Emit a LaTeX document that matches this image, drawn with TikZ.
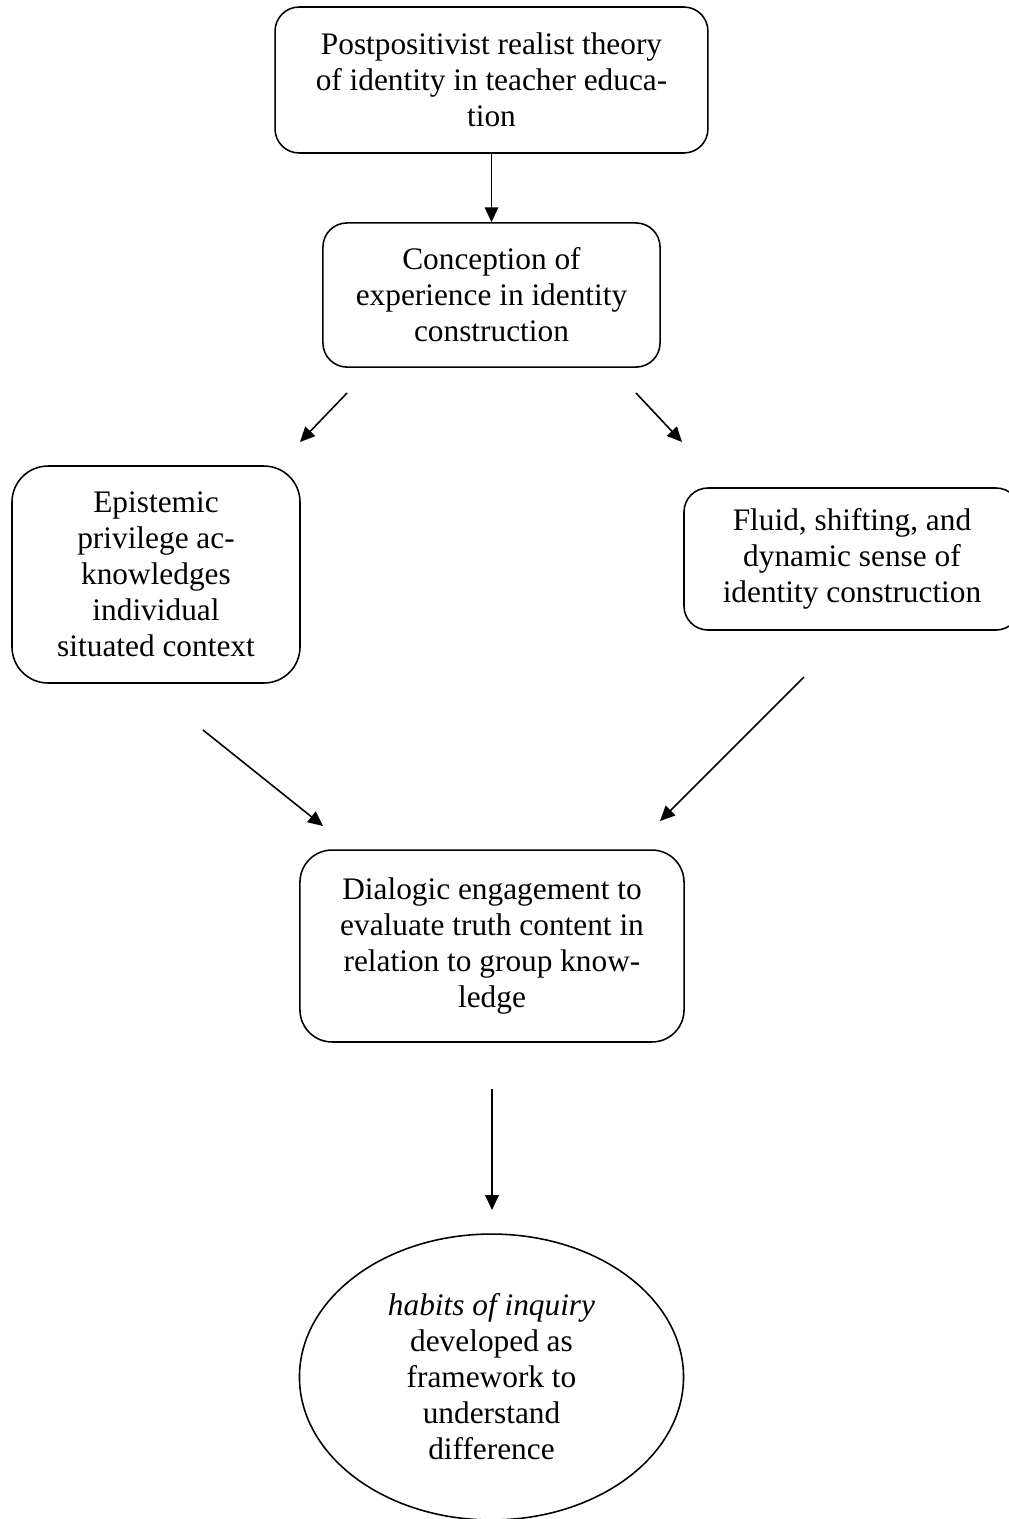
\documentclass[tikz,border=0pt]{standalone}
\usepackage{fontspec}
\setmainfont{Liberation Serif}
\usetikzlibrary{arrows.meta,shapes.geometric}
\begin{document}
\begin{tikzpicture}[x=0.383pt,y=-0.383pt,
  box/.style={draw, line width=0.6pt, align=center, inner sep=0pt,
    font=\fontsize{12}{13.8}\selectfont},
  arr/.style={-{Triangle[length=5.7pt,width=5.2pt]}, line width=0.6pt}]
\useasboundingbox (0,0) rectangle (1009,1519);

\node[box, rounded corners=9.2pt, minimum width=165.8pt, minimum height=55.9pt] (top) at (491.5,80)
  {Postpositivist realist theory\\of identity in teacher educa-\\tion};
\node[box, rounded corners=9.2pt, minimum width=129.1pt, minimum height=55.2pt] (conc) at (491.5,295)
  {Conception of\\experience in identity\\construction};
\node[box, rounded corners=13.8pt, minimum width=110.3pt, minimum height=83.1pt] (epi) at (156,574.5)
  {Epistemic\\privilege ac-\\knowledges\\individual\\situated context};
\node[box, rounded corners=9.2pt, minimum width=128.7pt, minimum height=54.4pt] (flu) at (852,559)
  {Fluid, shifting, and\\dynamic sense of\\identity construction};
\node[box, rounded corners=12.3pt, minimum width=147.1pt, minimum height=73.5pt] (dia) at (492,946)
  {Dialogic engagement to\\evaluate truth content in\\relation to group know-\\ledge};
\node[box, ellipse, minimum width=147.1pt, minimum height=109.5pt] (hab) at (491.5,1377)
  {\textit{habits of inquiry}\\developed as\\framework to\\understand\\difference};

\coordinate (a2s) at (347,393);  \coordinate (a2e) at (300,442);
\coordinate (a3s) at (636,393);  \coordinate (a3e) at (682,442);
\coordinate (a4s) at (203,730);  \coordinate (a4e) at (323,826);
\coordinate (a5s) at (804,677);  \coordinate (a5e) at (660,821);
\coordinate (a6s) at (492,1089); \coordinate (a6e) at (492,1210);

\draw[arr] (top.south) -- (conc.north);
\draw[arr] (a2s) -- (a2e);
\draw[arr] (a3s) -- (a3e);
\draw[arr] (a4s) -- (a4e);
\draw[arr] (a5s) -- (a5e);
\draw[arr] (a6s) -- (a6e);
\end{tikzpicture}
\end{document}
